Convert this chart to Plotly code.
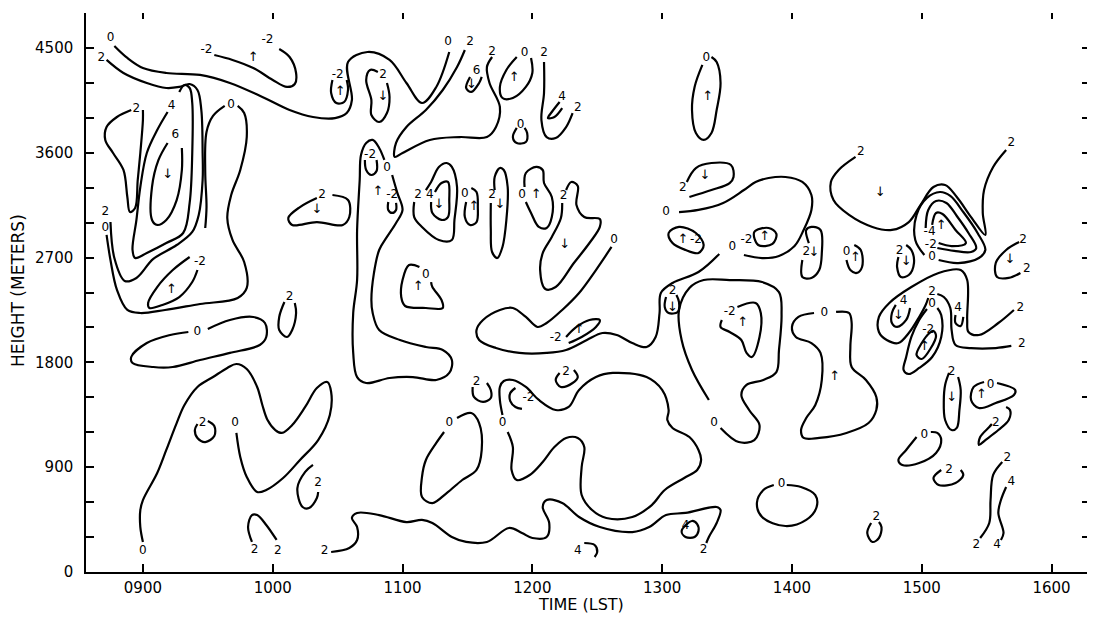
import plotly.graph_objects as go

# ---------------- axes ----------------
TIME_TICKS = [9, 10, 11, 12, 13, 14, 15, 16]
TIME_LABELS = ["0900", "1000", "1100", "1200", "1300", "1400", "1500", "1600"]
HEIGHT_TICKS = [0, 300, 600, 900, 1200, 1500, 1800, 2100, 2400, 2700, 3000, 3300,
                3600, 3900, 4200, 4500, 4800]
HEIGHT_LABELS = ["0", "", "", "900", "", "", "1800", "", "", "2700", "", "",
                 "3600", "", "", "4500", ""]
TIME_RANGE = [8.5615, 16.273]
HEIGHT_RANGE = [0, 4800]
X_TITLE = "TIME (LST)"
Y_TITLE = "HEIGHT (METERS)"

# ---------------- contour lines (level, closed, time [h], height [m]) ----------------
LEFT_CONTOURS = [
    ("0", False, [8.78, 8.88, 9.00, 9.18, 9.44, 9.67, 9.92, 10.13, 10.31, 10.48, 10.57, 10.61, 10.58, 10.73, 10.90, 11.03, 11.15, 11.26, 11.36],
     [4517, 4414, 4328, 4285, 4268, 4199, 4079, 3967, 3907, 3898, 3941, 4053, 4379, 4465, 4397, 4199, 4027, 4165, 4465]),
    ("2", False, [8.72, 8.85, 9.03, 9.18, 9.28, 9.36, 9.42, 9.45, 9.46, 9.46, 9.43, 9.38, 9.26, 9.08, 8.95, 8.86, 8.78, 8.75],
     [4397, 4285, 4199, 4156, 4165, 4190, 4139, 3967, 3598, 3366, 3066, 2920, 2808, 2688, 2525, 2499, 2696, 3005]),
    ("4", False, [9.28, 9.32, 9.36, 9.38, 9.38, 9.36, 9.31, 9.18, 9.03, 8.94, 8.92, 8.95, 8.98, 9.03, 9.11, 9.19],
     [4122, 4182, 4156, 4027, 3598, 3169, 2911, 2825, 2739, 2696, 2765, 3023, 3306, 3598, 3795, 3950]),
    ("6", False, [9.19, 9.12, 9.07, 9.07, 9.11, 9.18, 9.26, 9.30, 9.30],
     [3684, 3538, 3306, 3023, 2980, 3023, 3194, 3452, 3641]),
    ("2", False, [9.00, 9.00, 8.98, 8.96, 8.94, 8.90, 8.88, 8.85, 8.77, 8.71, 8.72, 8.80, 8.91],
     [3967, 3881, 3598, 3366, 3126, 3091, 3220, 3452, 3598, 3710, 3821, 3907, 3967]),
    ("0", False, [8.72, 8.75, 8.80, 8.88, 8.98, 9.17, 9.44, 9.73, 9.80, 9.78, 9.69, 9.65, 9.68, 9.75, 9.80, 9.78, 9.73],
     [2894, 2679, 2422, 2250, 2224, 2250, 2301, 2353, 2439, 2662, 2851, 3040, 3237, 3452, 3735, 3941, 4002]),
    ("0", False, [9.63, 9.54, 9.49, 9.48, 9.49, 9.48],
     [4002, 3916, 3778, 3435, 3135, 2954]),
    ("-2", False, [9.36, 9.23, 9.11, 9.04, 9.05, 9.15, 9.28, 9.38, 9.42],
     [2705, 2593, 2447, 2310, 2267, 2293, 2361, 2490, 2593]),
    ("-2", False, [9.55, 9.69, 9.85, 10.00, 10.11, 10.17, 10.18, 10.13, 10.05],
     [4439, 4397, 4328, 4225, 4165, 4190, 4285, 4422, 4491]),
    ("0", False, [9.50, 9.67, 9.85, 9.94, 9.95, 9.90, 9.67, 9.44, 9.23, 9.08, 8.92, 8.91, 9.03, 9.21, 9.35],
     [2087, 2164, 2190, 2138, 2018, 1949, 1881, 1820, 1760, 1760, 1795, 1846, 1966, 2035, 2061]),
    ("2", False, [10.09, 10.05, 10.05, 10.11, 10.15, 10.18, 10.17],
     [2318, 2190, 2078, 2018, 2078, 2224, 2310]),
    ("2", False, [10.34, 10.21, 10.12, 10.15, 10.34, 10.54, 10.59, 10.58, 10.46],
     [3212, 3134, 3040, 2980, 3005, 2980, 3048, 3194, 3237]),
]

LOWER_LEFT_CONTOURS = [
    ("0", False, [9.00, 8.98, 8.98, 9.00, 9.11, 9.18, 9.26, 9.32, 9.42, 9.54, 9.65, 9.72, 9.80, 9.88, 9.92, 9.96, 10.02, 10.07, 10.15, 10.25, 10.34, 10.42, 10.45, 10.44, 10.35, 10.21, 10.08, 9.95, 9.88, 9.80, 9.75, 9.72],
     [258, 386, 532, 618, 850, 1048, 1279, 1434, 1589, 1674, 1752, 1786, 1743, 1589, 1434, 1305, 1219, 1194, 1262, 1417, 1580, 1632, 1546, 1348, 1133, 962, 807, 704, 687, 816, 988, 1194]),
    ("2", False, [9.50, 9.55, 9.55, 9.48, 9.42, 9.40, 9.42],
     [1297, 1254, 1168, 1116, 1151, 1219, 1271]),
    ("2", False, [9.84, 9.81, 9.84, 9.88, 9.95, 10.03],
     [258, 386, 489, 489, 404, 275]),
    ("2", False, [10.31, 10.25, 10.19, 10.23, 10.28, 10.34, 10.35],
     [919, 859, 721, 558, 550, 635, 687]),
]

UPPER_MID_CONTOURS = [
    ("-2", False, [10.46, 10.45, 10.49, 10.55, 10.58, 10.57],
     [4225, 4113, 4027, 4036, 4139, 4225]),
    ("2", False, [10.81, 10.75, 10.72, 10.76, 10.76, 10.82, 10.88, 10.90, 10.88],
     [4294, 4311, 4225, 4053, 3924, 3864, 3941, 4079, 4199]),
    ("2", False, [11.48, 11.42, 11.31, 11.18, 11.03, 10.95, 10.94, 11.00, 11.21, 11.44, 11.65, 11.72, 11.75, 11.67, 11.65, 11.69],
     [4482, 4336, 4139, 3967, 3821, 3684, 3564, 3598, 3710, 3735, 3735, 3821, 3993, 4199, 4336, 4422]),
    ("6", False, [11.52, 11.49, 11.53, 11.59, 11.61],
     [4251, 4156, 4122, 4199, 4251]),
    ("0", False, [11.88, 11.80, 11.75, 11.77, 11.85, 11.95, 12.00, 11.99],
     [4422, 4311, 4165, 4070, 4070, 4165, 4285, 4414]),
    ("2", False, [12.09, 12.09, 12.07, 12.11, 12.18, 12.26, 12.31],
     [4379, 4113, 3881, 3735, 3727, 3821, 3941]),
    ("4", False, [12.21, 12.15, 12.12, 12.17, 12.23],
     [4036, 3950, 3898, 3907, 3984]),
    ("0", False, [11.88, 11.85, 11.88, 11.95, 11.96, 11.94],
     [3813, 3735, 3684, 3692, 3770, 3813]),
    ("0", False, [13.31, 13.25, 13.23, 13.26, 13.32, 13.38, 13.42, 13.45, 13.42, 13.38],
     [4354, 4165, 3967, 3770, 3710, 3770, 3967, 4199, 4379, 4422]),
    ("2", False, [13.19, 13.26, 13.38, 13.53, 13.55, 13.52, 13.38, 13.21],
     [3349, 3469, 3512, 3495, 3392, 3340, 3280, 3220]),
]

MID_CONTOURS = [
    ("0", False, [10.92, 10.96, 11.00, 10.95, 10.88, 10.82, 10.78, 10.76, 10.77, 10.82, 10.98, 11.18, 11.31, 11.38, 11.36, 11.26, 11.08, 10.90, 10.72, 10.65, 10.62, 10.62, 10.65, 10.65, 10.67, 10.68, 10.72, 10.77, 10.82, 10.86],
     [3409, 3255, 3109, 2997, 2877, 2765, 2568, 2336, 2224, 2078, 1992, 1932, 1906, 1820, 1709, 1649, 1674, 1666, 1623, 1674, 1881, 2224, 2507, 2937, 3366, 3581, 3684, 3710, 3641, 3538]),
    ("-2", False, [10.71, 10.72, 10.76, 10.80, 10.80], [3538, 3452, 3409, 3443, 3538]),
    ("-2", False, [10.89, 10.89, 10.92, 10.95, 10.95], [3177, 3109, 3083, 3109, 3169]),
    ("2", False, [11.09, 11.09, 11.15, 11.28, 11.38, 11.40, 11.42, 11.38, 11.34, 11.28, 11.22, 11.18],
     [3177, 3048, 2963, 2851, 2851, 3023, 3306, 3478, 3512, 3478, 3349, 3280]),
    ("4", False, [11.22, 11.23, 11.30, 11.35, 11.36, 11.35, 11.30, 11.25],
     [3177, 3083, 3023, 3048, 3194, 3349, 3340, 3263]),
    ("0", False, [11.49, 11.48, 11.52, 11.57, 11.58, 11.57, 11.53],
     [3177, 3048, 2980, 3005, 3134, 3263, 3297]),
    ("2", False, [11.71, 11.71, 11.75, 11.78, 11.81, 11.80, 11.77, 11.73, 11.69, 11.68, 11.68],
     [3280, 3392, 3469, 3452, 3306, 3023, 2791, 2696, 2748, 2937, 3169]),
    ("0", False, [11.94, 11.95, 12.03, 12.08, 12.09, 12.15, 12.15, 12.11, 12.05, 11.99, 11.95],
     [3306, 3426, 3478, 3452, 3340, 3220, 3048, 2954, 2963, 3083, 3177]),
    ("2", False, [12.26, 12.30, 12.35, 12.34, 12.40, 12.52, 12.52, 12.44, 12.32, 12.18, 12.10, 12.06, 12.08, 12.15, 12.22, 12.23],
     [3280, 3349, 3315, 3151, 3048, 3031, 2963, 2825, 2653, 2447, 2430, 2593, 2739, 2877, 3040, 3169]),
    ("0", False, [12.61, 12.49, 12.36, 12.23, 12.11, 12.04, 11.95, 11.85, 11.75, 11.62, 11.57, 11.59, 11.72, 11.90, 12.11, 12.26, 12.42, 12.54, 12.65, 12.77, 12.88, 12.95, 12.98, 12.99, 13.08, 13.28, 13.44],
     [2791, 2593, 2396, 2250, 2138, 2104, 2190, 2267, 2250, 2164, 2078, 1992, 1923, 1881, 1881, 1906, 1992, 2052, 2035, 1966, 1932, 2018, 2224, 2396, 2482, 2576, 2731]),
    ("0", False, [13.63, 13.77, 13.90, 14.02, 14.09, 14.15, 14.15, 14.08, 13.95, 13.82, 13.72, 13.63, 13.47, 13.28, 13.13],
     [2722, 2696, 2714, 2799, 2937, 3109, 3237, 3349, 3392, 3383, 3349, 3280, 3169, 3109, 3091]),
    ("-2", False, [12.26, 12.34, 12.44, 12.52, 12.49, 12.38, 12.28],
     [2018, 2104, 2164, 2164, 2104, 2018, 1966]),
    ("-2", True, [13.05, 13.13, 13.26, 13.32, 13.28, 13.18, 13.08],
     [2911, 2963, 2911, 2808, 2739, 2765, 2825]),
    ("-2", True, [13.71, 13.82, 13.88, 13.85, 13.74],
     [2920, 2954, 2903, 2817, 2808]),
    ("2", False, [13.03, 13.02, 13.05, 13.12, 13.13, 13.11],
     [2361, 2276, 2224, 2233, 2318, 2379]),
    ("0", False, [11.13, 11.05, 11.00, 10.99, 11.02, 11.18, 11.31, 11.30, 11.23, 11.22],
     [2619, 2636, 2507, 2361, 2284, 2267, 2267, 2336, 2447, 2490]),
]

RIGHT_CONTOURS = [
    ("2", False, [14.49, 14.36, 14.30, 14.32, 14.44, 14.62, 14.77, 14.90, 14.99, 15.09, 15.18, 15.27, 15.38, 15.49, 15.47, 15.48, 15.55, 15.65],
     [3564, 3452, 3349, 3194, 3066, 2963, 2937, 3005, 3151, 3306, 3323, 3220, 3048, 2894, 3083, 3280, 3478, 3624]),
    ("0", False, [13.36, 13.23, 13.15, 13.13, 13.21, 13.32, 13.52, 13.77, 13.90, 13.92, 13.90, 13.88, 13.78, 13.65, 13.61, 13.67, 13.75, 13.71, 13.59, 13.45],
     [1477, 1735, 1992, 2250, 2439, 2507, 2507, 2490, 2404, 2207, 1906, 1717, 1649, 1606, 1520, 1391, 1262, 1133, 1116, 1237]),
    ("-2", False, [13.58, 13.72, 13.76, 13.75, 13.69, 13.65, 13.61, 13.52, 13.45, 13.46],
     [2276, 2310, 2224, 2018, 1846, 1881, 1992, 2061, 2104, 2164]),
    ("0", False, [14.17, 14.05, 14.00, 14.03, 14.15, 14.22, 14.23, 14.18, 14.11, 14.07, 14.09, 14.21, 14.42, 14.59, 14.65, 14.65, 14.57, 14.46, 14.45, 14.46, 14.44, 14.34],
     [2224, 2190, 2104, 2018, 1966, 1881, 1649, 1434, 1322, 1219, 1151, 1151, 1194, 1279, 1391, 1503, 1649, 1760, 1932, 2138, 2224, 2233]),
    ("2", False, [14.13, 14.11, 14.15, 14.22, 14.23, 14.21, 14.15, 14.08, 14.08],
     [2825, 2937, 2963, 2937, 2739, 2593, 2525, 2533, 2679]),
    ("0", False, [14.48, 14.53, 14.54, 14.50, 14.45, 14.42],
     [2808, 2765, 2619, 2568, 2593, 2679]),
    ("2", False, [14.88, 14.92, 14.94, 14.90, 14.84, 14.81, 14.82],
     [2808, 2765, 2653, 2550, 2533, 2619, 2705]),
    ("-4", False, [15.08, 15.11, 15.16, 15.26, 15.34, 15.23, 15.13],
     [2980, 3083, 3074, 2937, 2825, 2799, 2825]),
    ("-2", False, [15.12, 15.25, 15.38, 15.42, 15.36, 15.27, 15.19, 15.11, 15.05, 15.03],
     [2782, 2757, 2748, 2782, 2911, 3057, 3169, 3186, 3109, 2954]),
    ("0", False, [15.13, 15.28, 15.44, 15.49, 15.43, 15.32, 15.22, 15.14, 15.04, 14.96, 14.95, 15.02],
     [2679, 2653, 2696, 2765, 2911, 3091, 3229, 3263, 3212, 3066, 2851, 2722]),
    ("2", False, [15.75, 15.65, 15.57, 15.58, 15.67, 15.76],
     [2834, 2765, 2653, 2533, 2525, 2568]),
    ("2", False, [15.71, 15.59, 15.44, 15.36, 15.35, 15.35, 15.30, 15.13, 14.92, 14.75, 14.67, 14.67, 14.73, 14.82, 14.90, 14.98, 15.03, 15.05],
     [2250, 2138, 2035, 2061, 2164, 2507, 2593, 2568, 2447, 2310, 2190, 2061, 1992, 1966, 2052, 2190, 2293, 2353]),
    ("2", False, [15.12, 15.17, 15.22, 15.23, 15.26, 15.38, 15.57, 15.69],
     [2387, 2361, 2267, 2078, 1949, 1923, 1923, 1941]),
    ("4", False, [14.80, 14.77, 14.77, 14.81, 14.88, 14.91],
     [2293, 2224, 2138, 2104, 2164, 2267]),
    ("4", False, [15.26, 15.26, 15.30, 15.32], [2207, 2138, 2112, 2190]),
    ("0", False, [15.04, 14.98, 14.92, 14.88, 14.86, 14.90, 14.98, 15.08, 15.15, 15.15, 15.12],
     [2258, 2164, 2018, 1846, 1735, 1700, 1752, 1846, 2018, 2207, 2267]),
    ("-2", True, [15.06, 15.00, 14.96, 15.00, 15.07, 15.11, 15.09],
     [2052, 1966, 1863, 1829, 1923, 2027, 2070]),
    ("2", False, [15.21, 15.18, 15.17, 15.18, 15.23, 15.27, 15.29, 15.30, 15.28],
     [1709, 1606, 1477, 1305, 1219, 1237, 1391, 1563, 1674]),
    ("0", False, [15.58, 15.72, 15.71, 15.57, 15.44, 15.38, 15.40, 15.48],
     [1623, 1563, 1520, 1451, 1408, 1477, 1589, 1632]),
    ("2", False, [15.65, 15.68, 15.67, 15.59, 15.49, 15.44, 15.45, 15.52, 15.54],
     [1417, 1391, 1305, 1219, 1133, 1091, 1159, 1245, 1271]),
    ("0", False, [14.96, 14.88, 14.82, 14.85, 14.98, 15.11, 15.15, 15.12, 15.07],
     [1159, 1048, 962, 919, 936, 1022, 1133, 1194, 1202]),
    ("2", False, [15.15, 15.09, 15.13, 15.26, 15.32, 15.30], [876, 807, 747, 764, 833, 876]),
    ("2", False, [15.62, 15.55, 15.53, 15.52, 15.45], [945, 833, 618, 421, 292]),
    ("4", False, [15.65, 15.61, 15.59, 15.63, 15.61], [730, 618, 507, 335, 275]),
    ("0", False, [13.86, 13.78, 13.73, 13.77, 13.95, 14.11, 14.19, 14.18, 14.07, 13.96],
     [747, 704, 592, 472, 395, 447, 558, 661, 730, 747]),
    ("2", False, [14.61, 14.58, 14.62, 14.67, 14.69, 14.67], [421, 335, 258, 292, 386, 429]),
]

LOWER_MID_CONTOURS = [
    ("2", False, [10.45, 10.59, 10.65, 10.65, 10.61, 10.65, 10.82, 11.03, 11.15, 11.23, 11.38, 11.49, 11.65, 11.82, 11.92, 12.00, 12.11, 12.13, 12.08, 12.11, 12.23, 12.36, 12.52, 12.77, 12.90, 13.03, 13.18, 13.42, 13.45, 13.42, 13.36, 13.34],
     [172, 206, 275, 386, 464, 507, 489, 429, 447, 421, 301, 258, 258, 378, 335, 292, 301, 421, 558, 618, 592, 472, 386, 343, 386, 489, 507, 558, 532, 421, 301, 249]),
    ("4", True, [13.15, 13.18, 13.25, 13.28, 13.27, 13.23], [352, 301, 301, 352, 412, 438]),
    ("4", False, [12.40, 12.48, 12.50, 12.48], [249, 232, 172, 129]),
    ("0", False, [11.77, 11.75, 11.75, 11.78, 11.85, 11.95, 12.05, 12.18, 12.28, 12.36, 12.49, 12.62, 12.88, 13.00, 13.05, 13.04, 13.08, 13.21, 13.28, 13.30, 13.27, 13.17, 13.02, 12.92, 12.77, 12.57, 12.46, 12.38, 12.38, 12.40, 12.35, 12.26, 12.17, 12.08, 11.98, 11.88, 11.84, 11.85, 11.81],
     [1348, 1477, 1589, 1640, 1649, 1589, 1477, 1391, 1417, 1563, 1674, 1709, 1674, 1563, 1391, 1305, 1237, 1159, 1048, 962, 876, 807, 704, 575, 472, 464, 532, 661, 902, 1073, 1151, 1151, 1073, 945, 833, 790, 876, 1073, 1202]),
    ("0", False, [11.42, 11.53, 11.59, 11.61, 11.57, 11.46, 11.34, 11.23, 11.15, 11.15, 11.18, 11.26, 11.32],
     [1322, 1365, 1279, 1048, 876, 790, 678, 592, 644, 816, 962, 1108, 1202]),
    ("2", False, [12.21, 12.18, 12.22, 12.31, 12.35, 12.32], [1709, 1649, 1589, 1623, 1674, 1735]),
    ("2", False, [11.54, 11.55, 11.62, 11.68, 11.68, 11.65], [1589, 1503, 1460, 1494, 1563, 1623]),
    ("-2", False, [11.87, 11.83, 11.83, 11.87, 11.92], [1580, 1537, 1468, 1417, 1400]),
]

# ---------------- contour value labels (text, time, height) ----------------
CONTOUR_LABELS = [
    ("0", 8.75, 4585), ("2", 8.68, 4414), ("-2", 9.49, 4482), ("-2", 9.96, 4568),
    ("4", 9.22, 4002), ("6", 9.25, 3753), ("2", 8.95, 3976), ("0", 9.68, 4010),
    ("2", 8.71, 3091), ("0", 8.71, 2954), ("-2", 9.44, 2662), ("0", 9.42, 2061),
    ("2", 10.13, 2361), ("0", 9.00, 180), ("0", 9.71, 1279), ("2", 9.46, 1279),
    ("2", 9.86, 189), ("2", 10.04, 180), ("2", 10.35, 764), ("2", 10.38, 3237),
    ("-2", 10.50, 4268), ("2", 10.85, 4268), ("0", 11.35, 4551), ("2", 11.52, 4551),
    ("2", 11.69, 4465), ("6", 11.57, 4302), ("0", 11.94, 4457), ("2", 12.09, 4457),
    ("2", 12.35, 3984), ("4", 12.23, 4079), ("0", 11.91, 3838), ("0", 13.34, 4414),
    ("2", 13.16, 3297), ("2", 14.53, 3607), ("2", 15.69, 3684), ("0", 10.88, 3469),
    ("-2", 10.75, 3581), ("-2", 10.92, 3237), ("2", 11.12, 3237), ("4", 11.21, 3237),
    ("0", 11.48, 3250), ("2", 11.69, 3237), ("0", 11.92, 3237), ("2", 12.24, 3229),
    ("0", 12.63, 2851), ("0", 13.03, 3091), ("0", 13.54, 2791), ("-2", 12.18, 2009),
    ("-2", 13.26, 2851), ("-2", 13.65, 2851), ("2", 13.08, 2410), ("0", 11.18, 2550),
    ("0", 13.40, 1279), ("-2", 13.52, 2233), ("0", 14.25, 2224), ("2", 14.11, 2748),
    ("0", 14.42, 2748), ("2", 14.83, 2756), ("-4", 15.06, 2920), ("-2", 15.07, 2808),
    ("0", 15.08, 2705), ("2", 15.78, 2851), ("2", 15.81, 2602), ("2", 15.76, 2267),
    ("2", 15.08, 2404), ("2", 15.77, 1958), ("4", 14.86, 2327), ("4", 15.28, 2267),
    ("0", 15.08, 2301), ("-2", 15.05, 2078), ("2", 15.23, 1717), ("0", 15.53, 1606),
    ("2", 15.57, 1279), ("0", 15.02, 1176), ("2", 15.21, 876), ("2", 15.66, 979),
    ("2", 15.42, 232), ("4", 15.69, 773), ("4", 15.58, 232), ("0", 13.92, 756),
    ("2", 14.65, 472), ("2", 10.40, 180), ("2", 13.32, 189), ("4", 13.18, 395),
    ("4", 12.35, 180), ("0", 11.77, 1279), ("0", 11.36, 1279), ("2", 12.26, 1717),
    ("2", 11.57, 1632), ("-2", 11.97, 1494),
]

# ---------------- vertical-motion arrows (time, height) ----------------
UP_ARROWS = [
    (9.22, 2422), (9.85, 4414), (10.52, 4122), (11.86, 4242), (13.35, 4079),
    (10.81, 3263), (11.55, 3134), (12.03, 3237), (12.36, 2078), (13.16, 2851),
    (13.79, 2877), (13.62, 2138), (14.33, 1674), (14.49, 2696), (15.15, 2971),
    (15.02, 1932), (15.46, 1520), (11.12, 2447),
]
DOWN_ARROWS = [
    (9.19, 3409), (10.85, 4079), (11.53, 4182), (13.33, 3400), (14.68, 3255),
    (10.34, 3109), (11.28, 3151), (11.75, 3151), (12.25, 2808), (13.08, 2270),
    (14.17, 2739), (14.88, 2662), (15.68, 2679), (14.82, 2198), (15.23, 1494),
]

FONT = "DejaVu Sans"

fig = go.Figure()

for group in (LEFT_CONTOURS, LOWER_LEFT_CONTOURS, UPPER_MID_CONTOURS,
              MID_CONTOURS, RIGHT_CONTOURS, LOWER_MID_CONTOURS):
    for level, closed, ts, hs in group:
        xs, ys = list(ts), list(hs)
        if closed:
            xs.append(xs[0])
            ys.append(ys[0])
        fig.add_trace(go.Scatter(
            x=xs, y=ys, mode="lines",
            line=dict(color="black", width=2.2, shape="spline", smoothing=1.0),
            hoverinfo="skip", showlegend=False))

fig.add_trace(go.Scatter(
    x=[c[1] for c in CONTOUR_LABELS], y=[c[2] for c in CONTOUR_LABELS],
    text=[c[0] for c in CONTOUR_LABELS], mode="text",
    textfont=dict(family=FONT, size=12, color="black"),
    hoverinfo="skip", showlegend=False))

fig.add_trace(go.Scatter(
    x=[a[0] for a in UP_ARROWS], y=[a[1] for a in UP_ARROWS],
    text=["↑"] * len(UP_ARROWS), mode="text",
    textfont=dict(family=FONT, size=13, color="black"),
    hoverinfo="skip", showlegend=False))
fig.add_trace(go.Scatter(
    x=[a[0] for a in DOWN_ARROWS], y=[a[1] for a in DOWN_ARROWS],
    text=["↓"] * len(DOWN_ARROWS), mode="text",
    textfont=dict(family=FONT, size=13, color="black"),
    hoverinfo="skip", showlegend=False))

# dummy trace so the mirrored tick axes render
fig.add_trace(go.Scatter(x=[None], y=[None], xaxis="x2", yaxis="y2",
                         mode="markers", hoverinfo="skip", showlegend=False))

fig.update_layout(
    width=1079, height=607,
    margin=dict(l=78, r=0, t=5, b=43, autoexpand=False),
    paper_bgcolor="white", plot_bgcolor="white",
    font=dict(family=FONT, color="black"),
    xaxis=dict(range=TIME_RANGE, tickvals=TIME_TICKS, ticktext=TIME_LABELS,
               ticks="inside", ticklen=8, tickwidth=1.5, tickcolor="black",
               showline=True, linecolor="black", linewidth=1.5,
               showgrid=False, zeroline=False, automargin=False,
               tickfont=dict(family=FONT, size=15), ticklabelstandoff=1),
    yaxis=dict(range=HEIGHT_RANGE, tickvals=HEIGHT_TICKS, ticktext=HEIGHT_LABELS,
               ticks="inside", ticklen=8, tickwidth=1.5, tickcolor="black",
               showline=True, linecolor="black", linewidth=1.5,
               showgrid=False, zeroline=False, automargin=False,
               tickfont=dict(family=FONT, size=15), ticklabelstandoff=8),
    xaxis2=dict(range=TIME_RANGE, overlaying="x", side="top", tickvals=TIME_TICKS,
                ticks="inside", ticklen=6, tickwidth=1.5, tickcolor="black",
                showticklabels=False, showline=False, showgrid=False, zeroline=False),
    yaxis2=dict(range=HEIGHT_RANGE, overlaying="y", side="right", tickvals=HEIGHT_TICKS,
                ticks="inside", ticklen=5, tickwidth=1.5, tickcolor="black",
                showticklabels=False, showline=False, showgrid=False, zeroline=False),
    annotations=[
        dict(text=X_TITLE, xref="paper", yref="paper", x=0.4945, y=-0.058,
             xanchor="center", yanchor="middle", showarrow=False,
             font=dict(family=FONT, size=16, color="black")),
        dict(text=Y_TITLE, xref="paper", yref="paper", x=-0.068, y=0.5045,
             xanchor="center", yanchor="middle", showarrow=False, textangle=-90,
             font=dict(family=FONT, size=17, color="black")),
    ],
)

fig.write_html("out.html")
